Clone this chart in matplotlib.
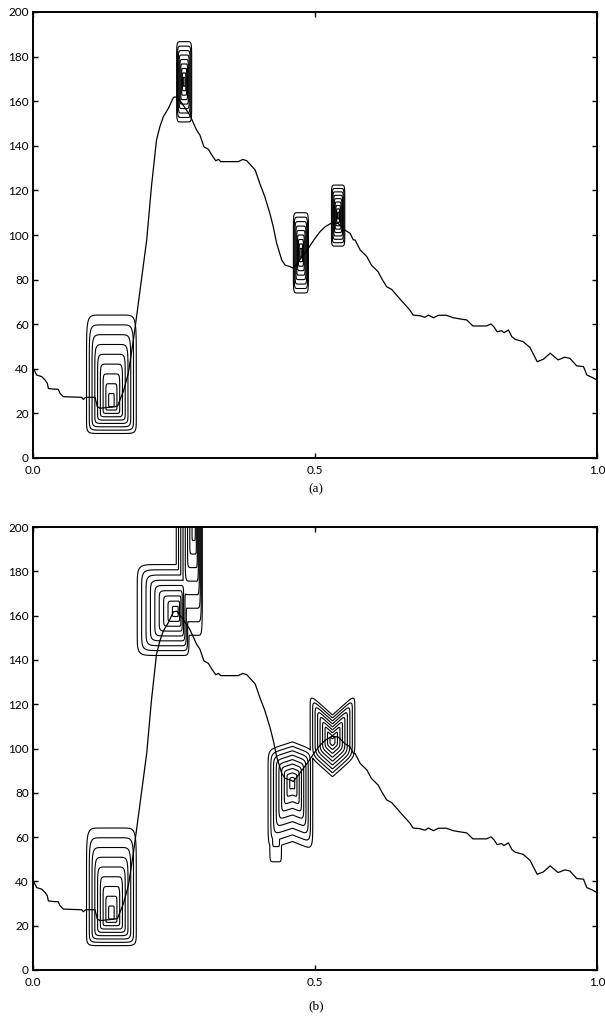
import numpy as np
import matplotlib
matplotlib.use("Agg")
from matplotlib import pyplot as plt

plt.rcParams["font.family"] = ["Lato", "DejaVu Sans"]

# the curve (same signal in both panels)
curve_x = [0.002, 0.0065, 0.0154, 0.0213, 0.0254, 0.0272, 0.036, 0.0449, 0.0479, 0.0538,
	0.0863, 0.0892, 0.0934, 0.110, 0.114, 0.119, 0.145, 0.150, 0.154, 0.160,
	0.169, 0.178, 0.184, 0.2016, 0.210, 0.219, 0.225, 0.231, 0.240, 0.249,
	0.255, 0.264, 0.278, 0.290, 0.296, 0.303, 0.311, 0.317, 0.324, 0.329,
	0.333, 0.364, 0.372, 0.379, 0.386, 0.394, 0.402, 0.411, 0.420, 0.426,
	0.432, 0.441, 0.447, 0.456, 0.4615, 0.475, 0.488, 0.500, 0.509, 0.518,
	0.530, 0.541, 0.553, 0.562, 0.568, 0.571, 0.580, 0.592, 0.600, 0.612,
	0.618, 0.627, 0.636, 0.651, 0.663, 0.668, 0.674, 0.686, 0.695, 0.701,
	0.710, 0.719, 0.733, 0.745, 0.754, 0.769, 0.780, 0.804, 0.812, 0.817,
	0.823, 0.831, 0.835, 0.843, 0.849, 0.855, 0.869, 0.881, 0.894, 0.905,
	0.917, 0.931, 0.943, 0.952, 0.964, 0.976, 0.982, 0.991, 0.9995]
curve_y = [39.5, 37.2, 36.5, 35.0, 33.5, 31.2, 30.9, 30.8, 29.0, 27.5,
	27.2, 26.3, 27.2, 27.2, 23.0, 22.3, 23.0, 23.3, 26.0, 29.7,
	38.0, 52.9, 64.1, 97.8, 121.7, 142.6, 148.6, 153.0, 156.8, 161.7,
	162.0, 159.1, 153.8, 147.1, 144.8, 139.6, 138.4, 135.9, 133.3, 133.9,
	132.9, 132.9, 133.9, 133.3, 131.4, 129.1, 123.2, 117.2, 109.7, 103.7,
	96.3, 88.8, 86.5, 85.8, 85.1, 89.5, 94.0, 98.5, 101.5, 103.7,
	105.5, 105.2, 102.2, 100.8, 97.8, 97.8, 93.3, 90.3, 86.5, 83.5,
	80.6, 76.8, 75.6, 71.2, 67.8, 66.4, 64.1, 63.8, 63.1, 64.1,
	62.9, 64.0, 64.0, 62.9, 62.5, 61.9, 59.2, 59.2, 60.1, 58.9,
	56.6, 57.1, 56.2, 57.4, 54.4, 53.2, 52.2, 49.6, 43.2, 44.3,
	47.0, 44.0, 45.2, 44.7, 41.3, 41.0, 37.2, 36.2, 35.0]

# contour bumps: centre x, centre y, half width left/right, half height up/down, bend, peak
a_cx = [0.139, 0.268, 0.475, 0.541]
a_cy = [24.5, 168.7, 92.0, 108.7]
a_wl = [0.049, 0.0148, 0.0148, 0.0131]
a_wr = [0.049, 0.0148, 0.0148, 0.0131]
a_up = [44.0, 20.0, 20.0, 15.2]
a_dn = [15.0, 20.0, 20.0, 15.2]
a_bend = [0.0, 0.0, 0.0, 0.0]
a_amp = [1.0, 1.0, 1.0, 1.0]

b_cx = [0.139, 0.255, 0.286, 0.460, 0.432, 0.531]
b_cy = [24.5, 161.8, 200.0, 85.0, 66.0, 103.0]
b_wl = [0.049, 0.078, 0.036, 0.048, 0.017, 0.044]
b_wr = [0.049, 0.024, 0.016, 0.040, 0.012, 0.044]
b_up = [44.0, 23.6, 30.0, 20.0, 12.0, 13.5]
b_dn = [15.0, 22.0, 55.0, 30.0, 24.0, 17.5]
b_bend = [0.0, 0.0, 0.0, -4.0, 0.0, 10.0]
b_amp = [1.0, 1.0, 0.9, 1.0, 0.35, 1.0]

levels = [0.1, 0.2, 0.3, 0.4, 0.5, 0.6, 0.7, 0.8, 0.9]


def field(X, Y, cx, cy, wl, wr, up, dn, bend, amp, p = 10):
	Z = np.zeros_like(X)
	for i in range(len(cx)):
		dx = X - cx[i]
		u = np.where(dx < 0, dx / wl[i], dx / wr[i])
		dy = Y - cy[i] - bend[i] * np.abs(u)
		v = np.where(dy > 0, dy / up[i], dy / dn[i])
		r = (np.abs(u) ** p + np.abs(v) ** p) ** (1.0 / p)
		Z = np.maximum(Z, amp[i] * (1.0 - r))
	return Z


def panel(ax, Z, X, Y):
	ax.contour(X, Y, Z, levels = levels, colors = "black", linewidths = 0.8)
	ax.plot(curve_x, curve_y, color = "black", linewidth = 0.9)
	ax.set_xlim(0, 1)
	ax.set_ylim(0, 200)
	ax.set_xticks([0.0, 0.5, 1.0])
	ax.set_xticklabels(["0.0", "0.5", "1.0"])
	ax.set_yticks(range(0, 201, 20))
	ax.tick_params(direction = "in", length = 3.5, width = 1.0, top = True, right = True, labelsize = 8.5, pad = 3, colors = "black")
	ax.tick_params(axis = "x", pad = 5)
	for s in ax.spines.values():
		s.set_linewidth(1.4)


xs = np.linspace(0, 1, 900)
ys = np.linspace(0, 205, 700)
X, Y = np.meshgrid(xs, ys)

fig = plt.figure(figsize = (6.05, 10.25), dpi = 100)
ax_a = fig.add_axes([33 / 605, 1 - 458 / 1025, 564 / 605, 446 / 1025])
ax_b = fig.add_axes([33 / 605, 1 - 970 / 1025, 564 / 605, 443 / 1025])
panel(ax_a, field(X, Y, a_cx, a_cy, a_wl, a_wr, a_up, a_dn, a_bend, a_amp), X, Y)
panel(ax_b, field(X, Y, b_cx, b_cy, b_wl, b_wr, b_up, b_dn, b_bend, b_amp), X, Y)
fig.text(316 / 605, 1 - 489 / 1025, "(a)", family = "Liberation Serif", fontsize = 9.5, ha = "center", va = "center")
fig.text(316 / 605, 1 - 1006 / 1025, "(b)", family = "Liberation Serif", fontsize = 9.5, ha = "center", va = "center")
fig.savefig("out.png", dpi = 100)
